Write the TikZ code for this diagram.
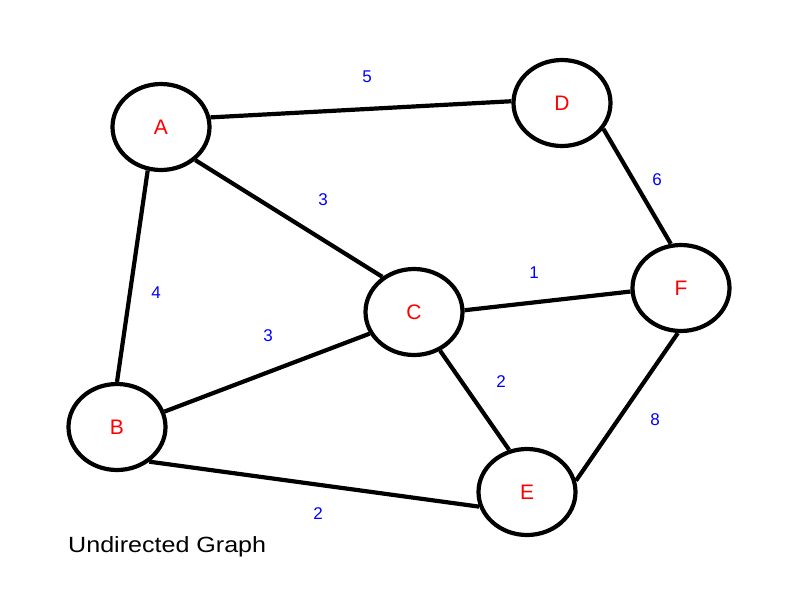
\documentclass[tikz,border=0pt]{standalone}
\usepackage{fontspec}
\setmainfont{Liberation Sans}
\usetikzlibrary{shapes.geometric}
\definecolor{lblred}{RGB}{255,0,0}
\definecolor{wblue}{RGB}{0,0,255}
\tikzset{
  vert/.style={draw=black, ellipse, line width=4.2pt, minimum width=97pt, minimum height=86pt, inner sep=0pt, fill=white, text=lblred, font=\fontsize{21}{24}\selectfont},
  edge/.style={line width=4.2pt, black},
  wlabel/.style={text=wblue, font=\fontsize{17}{19}\selectfont, inner sep=0pt}
}
\begin{document}
\begin{tikzpicture}[x=1pt,y=-1pt]
\useasboundingbox (0,0) rectangle (800,600);
\fill[white] (0,0) rectangle (800,600);
\node[vert] (A) at (161,127) {A};
\node[vert] (D) at (562,103) {D};
\node[vert] (C) at (414,312) {C};
\node[vert] (F) at (681,288) {F};
\node[vert] (B) at (117,427) {B};
\node[vert] (E) at (527,492) {E};
\draw[edge] (A.11) -- (D.178);
\draw[edge] (A.-44) -- (C.132);
\draw[edge] (A.-107) -- (B.90);
\draw[edge] (B.18) -- (C.-154);
\draw[edge] (B.-47) -- (E.-163);
\draw[edge] (C.2) -- (F.184);
\draw[edge] (C.-56) -- (E.113);
\draw[edge] (D.-32) -- (F.103);
\draw[edge] (F.-94) -- (E.13);
\node[wlabel] (w1) at (367,77) {5};
\node[wlabel] (w2) at (323,200) {3};
\node[wlabel] (w3) at (156,293) {4};
\node[wlabel] (w4) at (268,336) {3};
\node[wlabel] (w5) at (534,273) {1};
\node[wlabel] (w6) at (657,180) {6};
\node[wlabel] (w7) at (501,382) {2};
\node[wlabel] (w8) at (655,420) {8};
\node[wlabel] (w9) at (318,514) {2};
\node[anchor=west, inner sep=0pt, font=\fontsize{22}{24}\selectfont] (title) at (68,547) {\scalebox{1.14}[1]{Undirected Graph}};
\end{tikzpicture}
\end{document}
